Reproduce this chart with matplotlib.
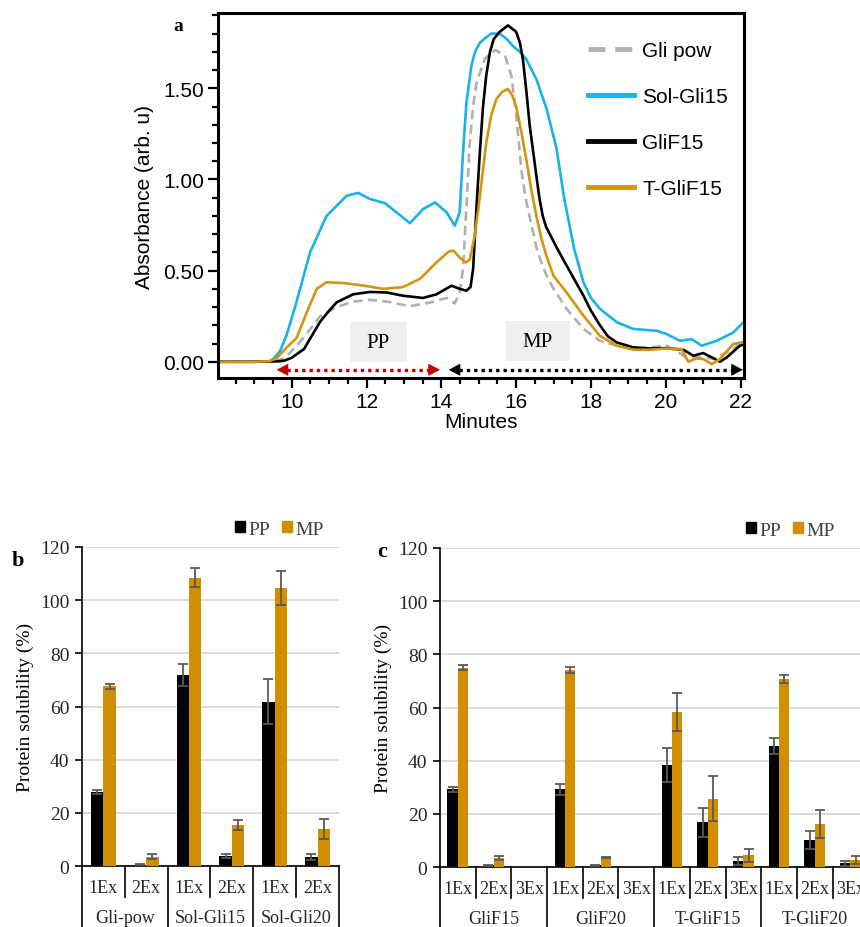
import numpy as np
import matplotlib.pyplot as plt
from matplotlib.ticker import MultipleLocator, FixedLocator, FormatStrFormatter
from matplotlib.patches import Patch, Rectangle

# ---- panel a: SEC chromatograms ----
t_gli = [8.0, 9.0, 9.6, 9.8, 9.96, 10.31, 10.76, 11.2, 11.64, 12.09, 12.54, 13.16, 13.7,
         14.14, 14.36, 14.49, 14.58, 14.67, 14.76, 14.85, 14.94, 15.16, 15.3, 15.45, 15.7,
         15.87, 16.0, 16.14, 16.25, 16.4, 16.55, 16.7, 16.82, 17.0, 17.35, 17.8, 18.24,
         18.69, 19.13, 19.58, 20.02, 20.34, 20.56, 20.92, 21.27, 21.63, 22.12, 22.2]
a_gli = [0.0, 0.0, 0.005, 0.02, 0.05, 0.13, 0.25, 0.30, 0.33, 0.34, 0.33, 0.305, 0.325,
         0.35, 0.32, 0.38, 0.51, 0.85, 1.20, 1.40, 1.53, 1.66, 1.69, 1.71, 1.68,
         1.57, 1.36, 1.05, 0.90, 0.76, 0.62, 0.53, 0.47, 0.40, 0.29, 0.18, 0.115,
         0.088, 0.073, 0.079, 0.088, 0.05, 0.024, 0.024, 0.018, 0.05, 0.115, 0.12]

t_sol = [8.0, 9.0, 9.4, 9.51, 9.69, 9.87, 10.13, 10.49, 10.93, 11.47, 11.78, 12.09, 12.49,
         12.8, 13.16, 13.51, 13.83, 14.14, 14.36, 14.49, 14.58, 14.67, 14.8, 14.9, 15.03,
         15.2, 15.34, 15.56, 15.75, 15.92, 16.1, 16.27, 16.54, 16.81, 17.08, 17.28, 17.55,
         17.8, 18.0, 18.24, 18.69, 19.13, 19.76, 20.02, 20.38, 20.69, 20.96, 21.36, 21.8,
         22.12, 22.2]
a_sol = [0.0, 0.0, 0.003, 0.015, 0.06, 0.15, 0.33, 0.60, 0.80, 0.911, 0.926, 0.893, 0.87,
         0.82, 0.76, 0.837, 0.874, 0.82, 0.746, 0.82, 1.15, 1.42, 1.62, 1.70, 1.75,
         1.78, 1.80, 1.80, 1.77, 1.73, 1.70, 1.66, 1.55, 1.39, 1.17, 0.90, 0.62,
         0.435, 0.35, 0.29, 0.217, 0.18, 0.17, 0.152, 0.115, 0.124, 0.088, 0.115, 0.16,
         0.225, 0.24]

t_f15 = [8.0, 9.0, 9.6, 9.8, 10.0, 10.33, 10.5, 10.76, 11.0, 11.2, 11.64, 12.09, 12.54,
         12.98, 13.51, 13.87, 14.27, 14.49, 14.67, 14.78, 14.85, 14.94, 15.03, 15.11, 15.2,
         15.3, 15.4, 15.56, 15.78, 16.0, 16.1, 16.18, 16.27, 16.36, 16.45, 16.54, 16.62,
         16.71, 16.8, 16.9, 17.1, 17.35, 17.8, 18.0, 18.24, 18.45, 18.69, 19.13, 19.58,
         20.02, 20.47, 20.74, 21.0, 21.23, 21.45, 21.63, 21.98, 22.2]
a_f15 = [0.0, 0.0, 0.002, 0.006, 0.022, 0.07, 0.13, 0.22, 0.28, 0.326, 0.37, 0.383, 0.38,
         0.362, 0.35, 0.37, 0.417, 0.40, 0.39, 0.41, 0.51, 0.85, 1.15, 1.39, 1.57,
         1.70, 1.77, 1.81, 1.845, 1.81, 1.75, 1.66, 1.49, 1.30, 1.16, 1.02, 0.90,
         0.80, 0.74, 0.70, 0.62, 0.527, 0.362, 0.28, 0.20, 0.14, 0.106, 0.079, 0.073,
         0.075, 0.066, 0.033, 0.048, 0.024, 0.0, 0.024, 0.088, 0.10]

t_tf15 = [8.0, 9.0, 9.4, 9.6, 9.87, 10.13, 10.4, 10.67, 10.93, 11.38, 11.91, 12.45, 12.98,
          13.43, 13.87, 14.2, 14.32, 14.5, 14.65, 14.76, 14.88, 14.99, 15.1, 15.2, 15.33,
          15.47, 15.62, 15.78, 15.9, 16.0, 16.14, 16.27, 16.4, 16.54, 16.67, 16.81, 17.0,
          17.35, 17.8, 18.24, 18.69, 19.13, 19.58, 20.02, 20.42, 20.6, 20.82, 21.0, 21.23,
          21.45, 21.8, 22.12, 22.2]
a_tf15 = [0.0, 0.0, 0.003, 0.02, 0.08, 0.13, 0.27, 0.40, 0.436, 0.432, 0.418, 0.40, 0.41,
          0.455, 0.545, 0.605, 0.61, 0.57, 0.545, 0.56, 0.68, 0.838, 1.03, 1.20, 1.35,
          1.44, 1.48, 1.496, 1.46, 1.40, 1.26, 1.11, 0.95, 0.80, 0.68, 0.58, 0.47,
          0.38, 0.252, 0.142, 0.088, 0.066, 0.066, 0.073, 0.07, 0.0, 0.018, 0.015, -0.013,
          0.015, 0.097, 0.11, 0.11]

# ---- panels b and c: protein solubility (%) ----
b_groups = ['Gli-pow', 'Sol-Gli15', 'Sol-Gli20']
b_ex = ['1Ex', '2Ex']
b_pp = [27.8, 0.5, 72.0, 3.8, 61.8, 3.4]
b_pp_err = [0.8, 0.2, 4.1, 0.6, 8.5, 1.3]
b_mp = [67.6, 3.5, 108.5, 15.5, 104.6, 13.9]
b_mp_err = [1.0, 0.9, 3.7, 1.8, 6.4, 3.8]

c_groups = ['GliF15', 'GliF20', 'T-GliF15', 'T-GliF20']
c_ex = ['1Ex', '2Ex', '3Ex']
c_pp = [29.3, 0.7, 0, 29.2, 0.7, 0, 38.3, 16.9, 2.4, 45.6, 10.3, 1.4]
c_pp_err = [1.0, 0.2, 0, 1.9, 0.2, 0, 6.4, 5.5, 1.6, 2.9, 3.4, 1.0]
c_mp = [75.0, 3.3, 0, 74.0, 3.6, 0, 58.3, 25.8, 4.5, 70.7, 16.3, 2.6]
c_mp_err = [0.9, 0.8, 0, 1.1, 0.3, 0, 7.3, 8.6, 2.5, 1.6, 5.3, 1.5]

BLUE = '#19b2ec'
GOLD = '#d4940f'
BAR_GOLD = '#d18f00'
SANS = 'Liberation Sans'
SERIF = 'Liberation Serif'

fig = plt.figure(figsize=(8.6, 9.28), dpi=100)

# ================= panel a =================
ax = fig.add_axes([0.2531, 0.5916, 0.6124, 0.3933])
ax.plot(t_gli, a_gli, color='#b0b0b0', lw=1.9, ls=(0, (3.5, 2)), label='Gli pow')
ax.plot(t_sol, a_sol, color=BLUE, lw=1.9, label='Sol-Gli15')
ax.plot(t_f15, a_f15, color='black', lw=1.9, label='GliF15')
ax.plot(t_tf15, a_tf15, color=GOLD, lw=1.9, label='T-GliF15')

ax.set_xlim(8.02, 22.1)
ax.set_ylim(-0.089, 1.913)
ax.xaxis.set_major_locator(FixedLocator(range(10, 23, 2)))
ax.xaxis.set_minor_locator(MultipleLocator(0.5))
ax.yaxis.set_major_locator(MultipleLocator(0.5))
ax.yaxis.set_minor_locator(MultipleLocator(0.1))
ax.yaxis.set_major_formatter(FormatStrFormatter('%.2f'))
ax.tick_params(which='major', direction='out', length=7, width=1.6, labelsize=15, pad=3)
ax.tick_params(which='minor', direction='out', length=4.3, width=1.6)
for lab in ax.get_xticklabels() + ax.get_yticklabels():
    lab.set_fontfamily(SANS)
for s in ax.spines.values():
    s.set_linewidth(2.2)
ax.set_xlabel('Minutes', fontsize=15, family=SANS, labelpad=1)
ax.set_ylabel('Absorbance (arb. u)', fontsize=15, family=SANS, labelpad=6)

leg = ax.legend(loc='upper right', bbox_to_anchor=(1.005, 0.975), frameon=False,
                prop={'family': SANS, 'size': 15}, handlelength=2.2, handletextpad=0.4,
                labelspacing=1.3)
for h in leg.get_lines():
    h.set_linewidth(3.5)

# shaded label boxes
ax.add_patch(Rectangle((11.56, 0.0), 1.51, 0.22, fc='#efefef', ec='none', zorder=0))
ax.add_patch(Rectangle((15.73, 0.005), 1.71, 0.22, fc='#efefef', ec='none', zorder=0))
ax.text(12.3, 0.105, 'PP', family=SERIF, fontsize=15, ha='center', va='center')
ax.text(16.58, 0.11, 'MP', family=SERIF, fontsize=15, ha='center', va='center')


def dotted_arrow(x0, x1, y, color):
    ax.plot([x0 + 0.28, x1 - 0.28], [y, y], color=color, lw=2.4, ls=(0, (1, 1.2)))
    head = dict(arrowstyle='-|>,head_length=0.75,head_width=0.4', color=color, lw=0.5,
                shrinkA=0, shrinkB=0)
    ax.annotate('', xy=(x0, y), xytext=(x0 + 0.3, y), arrowprops=head)
    ax.annotate('', xy=(x1, y), xytext=(x1 - 0.3, y), arrowprops=head)


dotted_arrow(9.6, 13.96, -0.044, '#c00000')
dotted_arrow(14.2, 22.06, -0.044, 'black')

fig.text(0.207, 0.971, 'a', family=SERIF, fontsize=14, fontweight='bold',
         ha='center', va='center')


# ================= panels b, c =================
def bar_panel(rect, groups, ex, pp, pp_err, mp, mp_err, letter, letter_xy, leg_x):
    ax = fig.add_axes(rect)
    n = len(pp)
    x = np.arange(n) + 0.5
    w = 0.29
    pp_a = np.array(pp, float)
    mp_a = np.array(mp, float)
    ax.bar(x - w / 2, pp_a, w, color='black', zorder=3)
    ax.bar(x + w / 2, mp_a, w, color=BAR_GOLD, zorder=3)
    ekw = dict(fmt='none', ecolor='#595959', elinewidth=1.3, capsize=3.3, capthick=1.3, zorder=4)
    m = pp_a > 0
    ax.errorbar((x - w / 2)[m], pp_a[m], yerr=np.array(pp_err)[m], **ekw)
    m = mp_a > 0
    ax.errorbar((x + w / 2)[m], mp_a[m], yerr=np.array(mp_err)[m], **ekw)

    ax.set_xlim(0, n)
    ax.set_ylim(0, 120)
    ax.set_yticks(range(0, 121, 20))
    ax.set_xticks([])
    ax.yaxis.grid(True, color='#d9d9d9', lw=1.3, zorder=0)
    ax.set_axisbelow(True)
    for side in ['top', 'right']:
        ax.spines[side].set_visible(False)
    ax.spines['left'].set_linewidth(1.2)
    ax.spines['bottom'].set_linewidth(1.2)
    ax.tick_params(axis='y', direction='out', length=5, width=1.2, labelsize=14,
                   labelcolor='#262626', pad=4)
    for lab in ax.get_yticklabels():
        lab.set_fontfamily(SERIF)
    ax.set_ylabel('Protein solubility (%)', fontsize=14, family=SERIF, labelpad=4)

    # two-level category axis
    tr = ax.get_xaxis_transform()
    k = len(ex)
    for i in range(n + 1):
        low = -0.2 if i % k == 0 else -0.097
        ax.plot([i, i], [0, low], transform=tr, color='black', lw=1.2, clip_on=False)
    for i in range(n):
        ax.text(i + 0.5, -0.066, ex[i % k], transform=tr, family=SERIF, fontsize=13,
                ha='center', va='center', color='#262626')
    for g, name in enumerate(groups):
        ax.text(g * k + k / 2, -0.162, name, transform=tr, family=SERIF, fontsize=13,
                ha='center', va='center', color='#262626')

    handles = [Patch(color='black', label='PP'), Patch(color=BAR_GOLD, label='MP')]
    ax.legend(handles=handles, loc='center right', bbox_to_anchor=(leg_x, 1.056), ncol=2,
              frameon=False, prop={'family': SERIF, 'size': 14}, handlelength=0.5,
              handleheight=0.5, handletextpad=0.2, columnspacing=0.6, borderpad=0,
              labelcolor='#404040')
    fig.text(letter_xy[0], letter_xy[1], letter, family=SERIF, fontsize=16,
             fontweight='bold', ha='center', va='center')
    return ax


bar_panel([0.0953, 0.0657, 0.2988, 0.3438], b_groups, b_ex, b_pp, b_pp_err, b_mp, b_mp_err,
          'b', (0.021, 0.396), 0.98)
bar_panel([0.5116, 0.0645, 0.4981, 0.3440], c_groups, c_ex, c_pp, c_pp_err, c_mp, c_mp_err,
          'c', (0.444, 0.405), 0.945)

fig.savefig('out.png', dpi=100)
